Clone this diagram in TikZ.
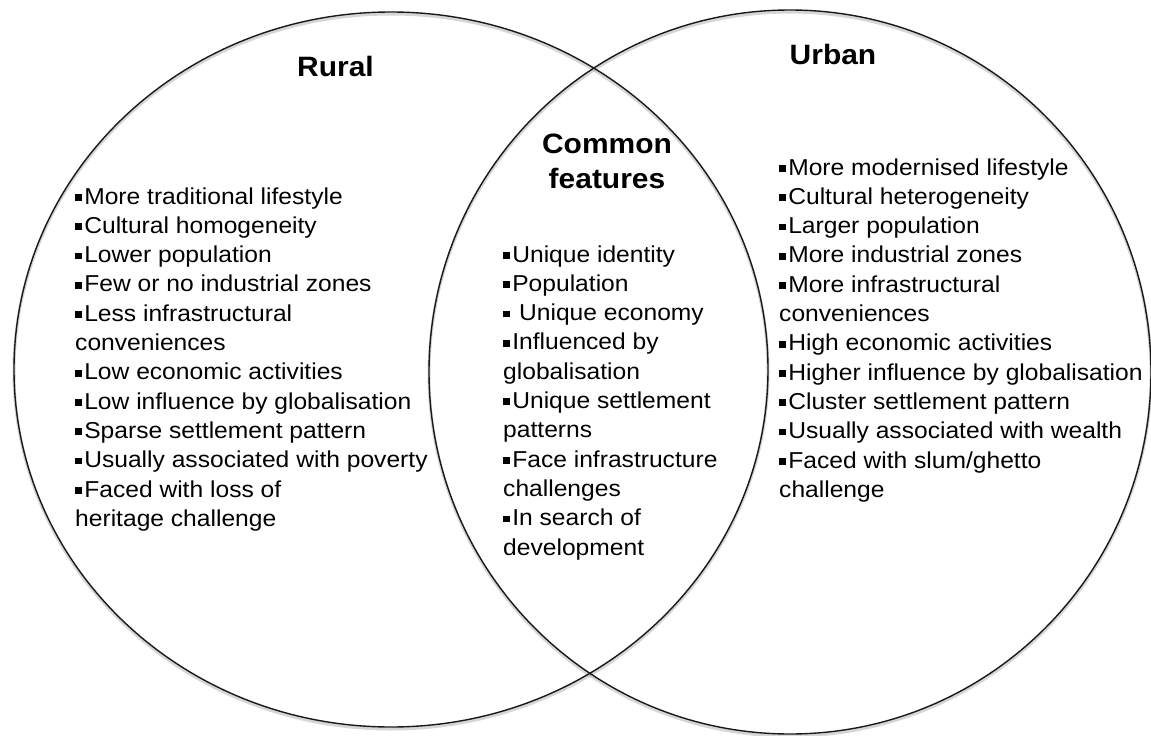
\documentclass[tikz,border=0pt]{standalone}
\usepackage{fontspec}
\setmainfont[FakeStretch=1.07]{Liberation Sans}
\usetikzlibrary{shapes.geometric}

% square bullet used in the lists
\newcommand{\sqb}{\rule[3.3pt]{6.8pt}{6.8pt}\hspace{2.3pt}}

\tikzset{
  setring/.style={draw=black!90, line width=1.4pt, ellipse, inner sep=0pt, fill=none},
  ringshade/.style={draw=black!35, line width=3pt, ellipse, inner sep=0pt, opacity=0.45},
  settitle/.style={font=\fontsize{28}{35}\selectfont\bfseries, inner sep=0pt, anchor=base, align=center},
  setlist/.style={inner sep=0pt, anchor=base west},
}

\newcommand{\itemlist}[1]{\parbox[t]{420pt}{\raggedright\fontsize{23}{29.3}\selectfont #1}}

\begin{document}
\begin{tikzpicture}[x=1pt,y=-1pt]
  \fill[white] (0,0) rectangle (1151,736);
  \useasboundingbox (0,0) rectangle (1151,736);

  % soft shading under the two set outlines
  \node[ringshade, minimum width=754pt, minimum height=715pt] (ruralshade) at (391,371.5) {};
  \node[ringshade, minimum width=722pt, minimum height=724pt] (urbanshade) at (790,374) {};

  % the two sets
  \node[setring, minimum width=754pt, minimum height=715pt] (ruralset) at (391,369.5) {};
  \node[setring, minimum width=722pt, minimum height=724pt] (urbanset) at (790,372) {};

  % titles
  \node[settitle] (rural) at (335.5,76) {Rural};
  \node[settitle] (urban) at (833,64) {Urban};
  \node[settitle] (common) at (607,188) {Common\\features};

  % rural features
  \node[setlist] (rurallist) at (75,204) {\itemlist{%
    \sqb More traditional lifestyle\\
    \sqb Cultural homogeneity\\
    \sqb Lower population\\
    \sqb Few or no industrial zones\\
    \sqb Less infrastructural\\
    conveniences\\
    \sqb Low economic activities\\
    \sqb Low influence by globalisation\\
    \sqb Sparse settlement pattern\\
    \sqb Usually associated with poverty\\
    \sqb Faced with loss of\\
    heritage challenge}};

  % shared features
  \node[setlist] (commonlist) at (503,262) {\itemlist{%
    \sqb Unique identity\\
    \sqb Population\\
    \sqb\ Unique economy\\
    \sqb Influenced by\\
    globalisation\\
    \sqb Unique settlement\\
    patterns\\
    \sqb Face infrastructure\\
    challenges\\
    \sqb In search of\\
    development}};

  % urban features
  \node[setlist] (urbanlist) at (779,175) {\itemlist{%
    \sqb More modernised lifestyle\\
    \sqb Cultural heterogeneity\\
    \sqb Larger population\\
    \sqb More industrial zones\\
    \sqb More infrastructural\\
    conveniences\\
    \sqb High economic activities\\
    \sqb Higher influence by globalisation\\
    \sqb Cluster settlement pattern\\
    \sqb Usually associated with wealth\\
    \sqb Faced with slum/ghetto\\
    challenge}};
\end{tikzpicture}
\end{document}
